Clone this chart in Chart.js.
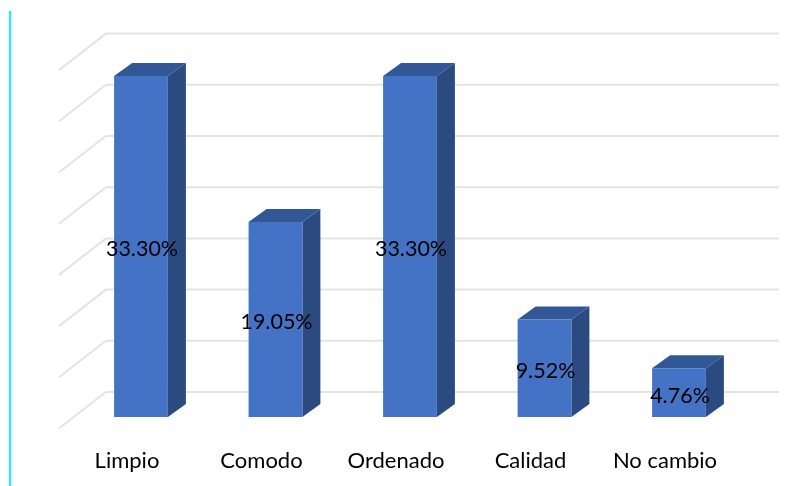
<!DOCTYPE html>
<html lang="es">
<head>
    <meta charset="UTF-8">
    <title>Limpio, Comodo, Ordenado</title>
    <script src="https://cdn.jsdelivr.net/npm/chart.js"></script>
    <style>
        html, body { margin: 0; padding: 0; background: #fff; overflow: hidden; }
        #marco { position: absolute; left: 9px; top: 11px; width: 2px; height: 475px; background: #00ffff; }
        canvas { position: absolute; left: 0; top: 0; filter: blur(0.5px); }
    </style>
</head>
<body>
    <canvas id="barras" width="800" height="486"></canvas>
    <div id="marco"></div>

    <script>
        const categorias = ['Limpio', 'Comodo', 'Ordenado', 'Calidad', 'No cambio'];
        const porcentajes = [33.30, 19.05, 33.30, 9.52, 4.76];
        const ejeMin = 0;
        const ejeMax = 35;
        const ejePaso = 5;

        // fake 3D look, the bars get a side and a top face
        const fondo = { dx: 18, dy: -13 };
        const pared = { x: 106, yOff: -25, dx: -47, dy: 36.5, fin: 779 };

        const caras3d = {
            id: 'caras3d',
            beforeDatasetsDraw(chart) {
                const ctx = chart.ctx;
                const y = chart.scales.y;
                ctx.save();
                // back wall and left wall lines
                ctx.strokeStyle = '#e4e4e4';
                ctx.lineWidth = 2;
                y.ticks.forEach(t => {
                    const py = y.getPixelForValue(t.value) + pared.yOff;
                    ctx.beginPath();
                    ctx.moveTo(pared.x + pared.dx, py + pared.dy);
                    ctx.lineTo(pared.x, py);
                    ctx.lineTo(pared.fin, py);
                    ctx.stroke();
                });
                chart.getDatasetMeta(0).data.forEach(bar => {
                    const der = bar.x + bar.width / 2;
                    const izq = bar.x - bar.width / 2;
                    // side
                    ctx.fillStyle = '#2b4a80';
                    ctx.beginPath();
                    ctx.moveTo(der, bar.y);
                    ctx.lineTo(der + fondo.dx, bar.y + fondo.dy);
                    ctx.lineTo(der + fondo.dx, bar.base + fondo.dy);
                    ctx.lineTo(der, bar.base);
                    ctx.closePath();
                    ctx.fill();
                    // top
                    ctx.fillStyle = '#325797';
                    ctx.beginPath();
                    ctx.moveTo(izq, bar.y);
                    ctx.lineTo(izq + fondo.dx, bar.y + fondo.dy);
                    ctx.lineTo(der + fondo.dx, bar.y + fondo.dy);
                    ctx.lineTo(der, bar.y);
                    ctx.closePath();
                    ctx.fill();
                });
                ctx.restore();
            },
            afterDatasetsDraw(chart) {
                const ctx = chart.ctx;
                ctx.save();
                ctx.fillStyle = '#000';
                ctx.font = '21.5px Lato';
                ctx.textAlign = 'center';
                ctx.textBaseline = 'middle';
                chart.getDatasetMeta(0).data.forEach((bar, i) => {
                    ctx.fillText(porcentajes[i].toFixed(2) + '%', bar.x + 1, (bar.y + bar.base) / 2 + 3);
                });
                ctx.restore();
            }
        };

        new Chart(document.getElementById('barras').getContext('2d'), {
            type: 'bar',
            data: {
                labels: categorias,
                datasets: [{
                    data: porcentajes,
                    backgroundColor: '#4472c4',
                    barPercentage: 0.4,
                    categoryPercentage: 1
                }]
            },
            options: {
                responsive: false,
                animation: false,
                layout: { padding: { left: 73.75, right: 53.75, top: 58.6, bottom: 0 } },
                plugins: { legend: { display: false }, tooltip: { enabled: false } },
                scales: {
                    x: {
                        grid: { display: false },
                        border: { display: false },
                        afterFit(scale) { scale.height = 69; },
                        ticks: {
                            color: '#000',
                            font: { family: 'Lato', size: 22 },
                            labelOffset: -14,
                            padding: 23,
                            maxRotation: 0
                        }
                    },
                    y: {
                        min: ejeMin,
                        max: ejeMax,
                        display: false,
                        ticks: { stepSize: ejePaso }
                    }
                }
            },
            plugins: [caras3d]
        });
    </script>
</body>
</html>
